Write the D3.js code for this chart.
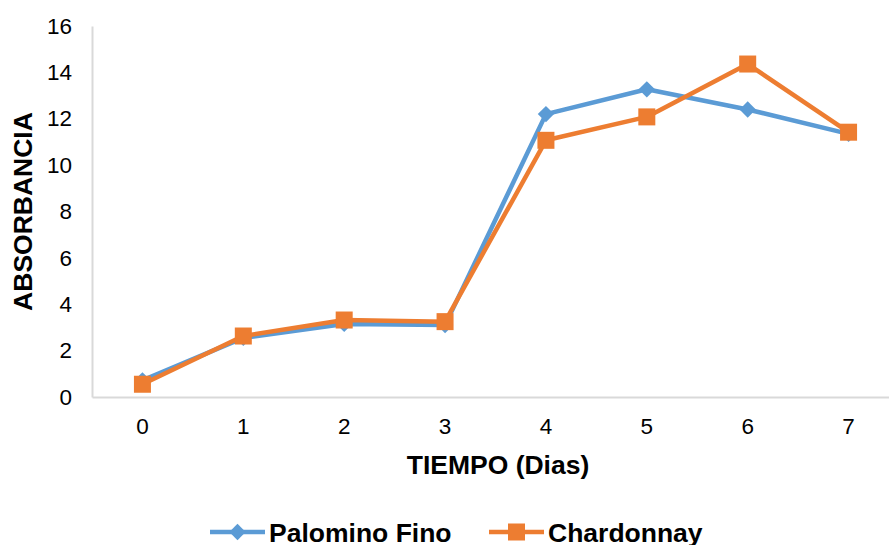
<!DOCTYPE html>
<html>
<head>
<meta charset="utf-8">
<script src="https://cdn.jsdelivr.net/npm/d3@7"></script>
<style>
  body { margin: 0; background: #fff; }
  text { font-family: "Liberation Sans", Arial, sans-serif; fill: #000; }
</style>
</head>
<body>
<div id="chart"></div>
<script>
// chart data
var dias = [0, 1, 2, 3, 4, 5, 6, 7];
var palominoFino = [0.72, 2.55, 3.15, 3.1, 12.2, 13.27, 12.4, 11.35];
var chardonnay = [0.55, 2.63, 3.32, 3.25, 11.07, 12.08, 14.36, 11.42];
var yTicks = [0, 2, 4, 6, 8, 10, 12, 14, 16];
var seriesNames = ["Palomino Fino", "Chardonnay"];

var width = 889, height = 545;
var plotLeft = 92, plotRight = 899, plotTop = 26, plotBottom = 397;

var svg = d3.select("#chart").append("svg")
  .attr("width", width)
  .attr("height", height);

var x = d3.scaleBand().domain(dias).range([plotLeft, plotRight]);
var y = d3.scaleLinear().domain([0, 16]).range([plotBottom, plotTop]);

// axes - no tick marks, grey lines
var yAxis = svg.append("g")
  .attr("transform", "translate(" + plotLeft + ",0)")
  .call(d3.axisLeft(y).tickValues(yTicks).tickSize(0).tickPadding(20));
var xAxis = svg.append("g")
  .attr("transform", "translate(0," + plotBottom + ")")
  .call(d3.axisBottom(x).tickSize(0).tickPadding(21));

[yAxis, xAxis].forEach(function(g){
  g.attr("font-size", null).attr("font-family", null);
  g.select(".domain").attr("stroke", "#d9d9d9").attr("stroke-width", 2);
  g.selectAll("text").style("font-size", "22.5px").attr("fill", "#000");
});

svg.append("text")
  .attr("transform", "translate(32," + ((plotTop + plotBottom) / 2) + ") rotate(-90)")
  .attr("text-anchor", "middle")
  .style("font-size", "26.5px").style("font-weight", "bold")
  .text("ABSORBANCIA");

svg.append("text")
  .attr("x", 498).attr("y", 474)
  .attr("text-anchor", "middle")
  .style("font-size", "26.5px").style("font-weight", "bold")
  .text("TIEMPO (Dias)");

var line = d3.line()
  .x(function(d, i){ return x(dias[i]) + x.bandwidth() / 2; })
  .y(function(d){ return y(d); });

var colors = ["#5b9bd5", "#ed7d31"];
var data = [palominoFino, chardonnay];

data.forEach(function(vals, s){
  svg.append("path")
    .datum(vals)
    .attr("fill", "none")
    .attr("stroke", colors[s])
    .attr("stroke-width", 4.5)
    .attr("stroke-linejoin", "round")
    .attr("d", line);
});

// markers
svg.selectAll(".diamond").data(palominoFino).enter().append("path")
  .attr("class", "diamond")
  .attr("d", d3.symbol().type(d3.symbolDiamond2).size(170))
  .attr("fill", colors[0])
  .attr("transform", function(d, i){
    return "translate(" + (x(dias[i]) + x.bandwidth() / 2) + "," + y(d) + ")";
  });

svg.selectAll(".square").data(chardonnay).enter().append("rect")
  .attr("class", "square")
  .attr("width", 17).attr("height", 17)
  .attr("fill", colors[1])
  .attr("x", function(d, i){ return x(dias[i]) + x.bandwidth() / 2 - 8.5; })
  .attr("y", function(d){ return y(d) - 8.5; });

// legend
var legendX = [210, 489];
seriesNames.forEach(function(name, s){
  var g = svg.append("g").attr("transform", "translate(" + legendX[s] + ",532)");
  g.append("line").attr("x1", 0).attr("x2", 55).attr("y1", 0).attr("y2", 0)
    .attr("stroke", colors[s]).attr("stroke-width", 4.5);
  if (s === 0) {
    g.append("path").attr("d", d3.symbol().type(d3.symbolDiamond2).size(170))
      .attr("transform", "translate(27.5,0)").attr("fill", colors[s]);
  } else {
    g.append("rect").attr("x", 19).attr("y", -8.5).attr("width", 17).attr("height", 17)
      .attr("fill", colors[s]);
  }
  g.append("text").attr("x", 59).attr("y", 9.5)
    .style("font-size", "26.5px").style("font-weight", "bold")
    .text(name);
});
</script>
</body>
</html>
